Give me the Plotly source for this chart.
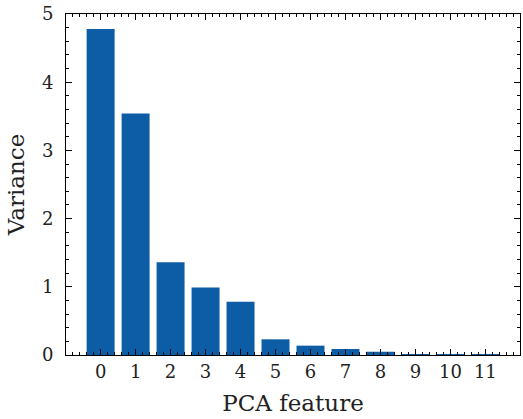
import plotly.graph_objects as go

features = list(range(12))
variance = [4.78, 3.54, 1.36, 0.99, 0.78, 0.23, 0.137, 0.088, 0.048, 0.004, 0.002, 0.001]
tick_labels = [str(i) for i in features]

FONT = "DejaVu Serif"

fig = go.Figure(go.Bar(x=features, y=variance, width=0.8,
                       marker=dict(color="#0C5DA5", line=dict(width=0))))

axis_common = dict(showgrid=False, zeroline=False, showline=True, linecolor="black",
                   linewidth=1, mirror="allticks", ticks="inside", ticklen=6,
                   tickwidth=1, tickcolor="black",
                   tickfont=dict(family=FONT, size=18, color="#222"))

fig.update_xaxes(range=[-0.99, 11.99], tickvals=features, ticktext=tick_labels,
                 minor=dict(dtick=0.2, tick0=0, ticks="inside", ticklen=3, tickwidth=1,
                            tickcolor="black", showgrid=False),
                 title=dict(text="PCA feature", font=dict(family=FONT, size=23, color="#222"),
                            standoff=14),
                 ticklabelstandoff=0, **axis_common)
fig.update_yaxes(range=[0, 5], dtick=1,
                 minor=dict(dtick=0.2, ticks="inside", ticklen=3, tickwidth=1,
                            tickcolor="black", showgrid=False),
                 title=dict(text="Variance", font=dict(family=FONT, size=23, color="#222"),
                            standoff=10),
                 ticklabelstandoff=8, **axis_common)

fig.update_layout(width=523, height=419, margin=dict(l=66, r=3, t=14, b=64),
                  plot_bgcolor="white", paper_bgcolor="white", showlegend=False,
                  bargap=0.2)

fig.write_html("out.html")
